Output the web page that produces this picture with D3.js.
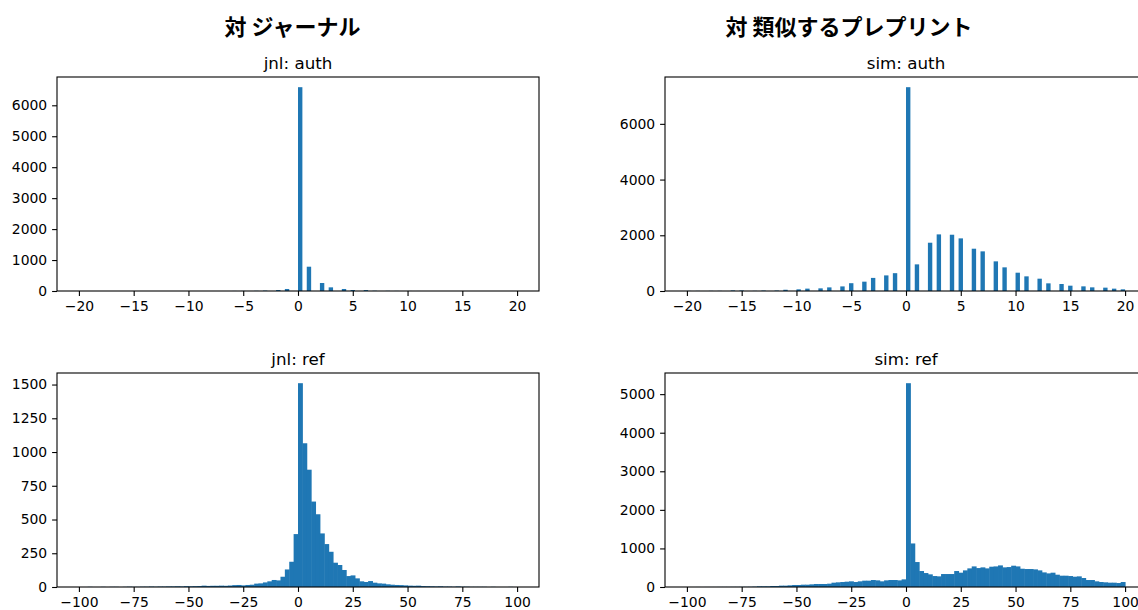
<!DOCTYPE html>
<html><head><meta charset="utf-8">
<script src="https://cdn.jsdelivr.net/npm/d3@7"></script>
<style>body{margin:0;background:#fff;overflow:hidden}</style>
</head><body><svg id="c" width="1138" height="610"></svg>
<script>
// ---------- data ----------
const groupTitles = ["対 ジャーナル", "対 類似するプレプリント"];
const panelTitles = ["jnl: auth", "sim: auth", "jnl: ref", "sim: ref"];

// auth: integer differences -20..20 (histogram with 100 bins over [-20,20])
const authValues = [-20,-19,-18,-17,-16,-15,-14,-13,-12,-11,-10,-9,-8,-7,-6,-5,-4,-3,-2,-1,0,1,2,3,4,5,6,7,8,9,10,11,12,13,14,15,16,17,18,19,20];
const jnlAuthCounts = [0,0,0,0,0,0,0,0,0,0,0,0,0,0,2,3,5,12,32,65,6585,785,258,118,65,32,30,8,5,3,2,1,0,0,0,0,0,0,0,0,0];
const simAuthCounts = [4,4,5,5,20,20,5,15,15,45,60,85,95,130,165,280,335,470,560,640,7316,956,1733,2032,2020,1889,1518,1423,1064,849,657,526,442,275,251,191,167,131,120,84,60];

// ref: bin starts (bin width 2 over [-100,100])
const refBinStarts = [-100,-98,-96,-94,-92,-90,-88,-86,-84,-82,-80,-78,-76,-74,-72,-70,-68,-66,-64,-62,-60,-58,-56,-54,-52,-50,-48,-46,-44,-42,-40,-38,-36,-34,-32,-30,-28,-26,-24,-22,-20,-18,-16,-14,-12,-10,-8,-6,-4,-2,0,2,4,6,8,10,12,14,16,18,20,22,24,26,28,30,32,34,36,38,40,42,44,46,48,50,52,54,56,58,60,62,64,66,68,70,72,74,76,78,80,82,84,86,88,90,92,94,96,98];
const jnlRefCounts = [0,0,1,0,0,1,0,1,1,0,1,2,1,1,2,2,3,2,3,3,4,4,5,4,6,5,6,7,10,8,9,9,10,9,11,14,15,12,15,17,25,27,34,42,52,49,76,130,187,392,1510,1065,869,633,539,397,318,261,180,163,126,81,86,64,42,37,44,32,27,25,20,17,15,14,12,10,9,10,7,6,5,4,5,3,3,2,4,2,2,1,1,1,1,0,1,0,0,0,1,0];
const simRefCounts = [0,0,1,0,1,1,1,2,2,2,3,3,4,4,5,9,17,17,17,26,26,35,35,43,52,52,60,60,69,78,78,78,86,112,121,129,138,147,129,147,164,164,181,172,147,172,181,181,172,198,5284,1129,647,414,362,328,284,276,336,336,336,414,371,431,483,534,491,509,483,526,534,560,509,517,552,534,474,466,466,457,431,379,353,371,319,293,293,284,267,276,233,181,181,147,129,121,112,112,103,129];

const authXTicks = [-20,-15,-10,-5,0,5,10,15,20];
const refXTicks = [-100,-75,-50,-25,0,25,50,75,100];
const jnlAuthYTicks = [0,1000,2000,3000,4000,5000,6000];
const simAuthYTicks = [0,2000,4000,6000];
const jnlRefYTicks = [0,250,500,750,1000,1250,1500];
const simRefYTicks = [0,1000,2000,3000,4000,5000];

// ---------- build bins ----------
const AUTH_W = 0.4, REF_W = 2;
function authBins(counts) {
  return authValues.map((v, i) => {
    const idx = Math.min(99, Math.floor((v + 20) * 2.5));
    const x0 = -20 + idx * AUTH_W;
    return {x0, x1: x0 + AUTH_W, c: counts[i]};
  });
}
function refBins(counts) {
  return refBinStarts.map((s, i) => ({x0: s, x1: s + REF_W, c: counts[i]}));
}

const colL = [57, 539], colR = [665, 1147];
const rowT = [77, 291], rowB = [373, 587];
const panels = [
  {title: panelTitles[0], xr: colL, yr: rowT, dom: [-22, 22], bins: authBins(jnlAuthCounts), xt: authXTicks, yt: jnlAuthYTicks, seam: 0},
  {title: panelTitles[1], xr: colR, yr: rowT, dom: [-22, 22], bins: authBins(simAuthCounts), xt: authXTicks, yt: simAuthYTicks, seam: 0},
  {title: panelTitles[2], xr: colL, yr: rowB, dom: [-110, 110], bins: refBins(jnlRefCounts), xt: refXTicks, yt: jnlRefYTicks, seam: 0.5},
  {title: panelTitles[3], xr: colR, yr: rowB, dom: [-110, 110], bins: refBins(simRefCounts), xt: refXTicks, yt: simRefYTicks, seam: 0.5},
];

const svg = d3.select("#c");
const fmt = d => d < 0 ? "\u2212" + Math.abs(d) : String(d);
const TICK = 4.9, PAD = 4.9, FS = 13.9;

panels.forEach(p => {
  const x = d3.scaleLinear().domain(p.dom).range(p.xr);
  const ymax = d3.max(p.bins, b => b.c) * 1.05;
  const y = d3.scaleLinear().domain([0, ymax]).range([p.yr[1], p.yr[0]]);
  const g = svg.append("g");

  g.append("g").selectAll("rect").data(p.bins.filter(b => b.c > 0)).join("rect")
    .attr("x", b => x(b.x0))
    .attr("width", b => x(b.x1) - x(b.x0) + p.seam)
    .attr("y", b => y(b.c))
    .attr("height", b => y(0) - y(b.c))
    .attr("fill", "#1f77b4");

  const xa = g.append("g").attr("transform", `translate(0,${p.yr[1]})`)
    .call(d3.axisBottom(x).tickValues(p.xt).tickFormat(fmt).tickSize(TICK).tickPadding(PAD).tickSizeOuter(0));
  const ya = g.append("g").attr("transform", `translate(${p.xr[0]},0)`)
    .call(d3.axisLeft(y).tickValues(p.yt).tickFormat(fmt).tickSize(TICK).tickPadding(PAD).tickSizeOuter(0));
  [xa, ya].forEach(a => {
    a.select(".domain").remove();
    a.attr("font-family", "DejaVu Sans").attr("font-size", FS);
    a.selectAll("line").attr("stroke", "#000").attr("stroke-width", 1.1);
    a.selectAll("text").attr("fill", "#000");
  });

  g.append("rect")
    .attr("x", p.xr[0]).attr("y", p.yr[0])
    .attr("width", p.xr[1] - p.xr[0]).attr("height", p.yr[1] - p.yr[0])
    .attr("fill", "none").attr("stroke", "#000").attr("stroke-width", 1.1);

  g.append("text")
    .attr("x", (p.xr[0] + p.xr[1]) / 2).attr("y", p.yr[0] - 8.3)
    .attr("text-anchor", "middle")
    .attr("font-family", "DejaVu Sans").attr("font-size", 16.7)
    .attr("fill", "#000")
    .text(p.title);
});

const supX = [292.5, 849];
groupTitles.forEach((t, i) => {
  svg.append("text")
    .attr("x", supX[i]).attr("y", 25)
    .attr("dominant-baseline", "central")
    .attr("text-anchor", "middle")
    .attr("font-family", "Noto Sans CJK JP").attr("font-weight", "bold")
    .attr("font-size", 22).attr("fill", "#000")
    .text(t);
});
</script>
</body></html>
